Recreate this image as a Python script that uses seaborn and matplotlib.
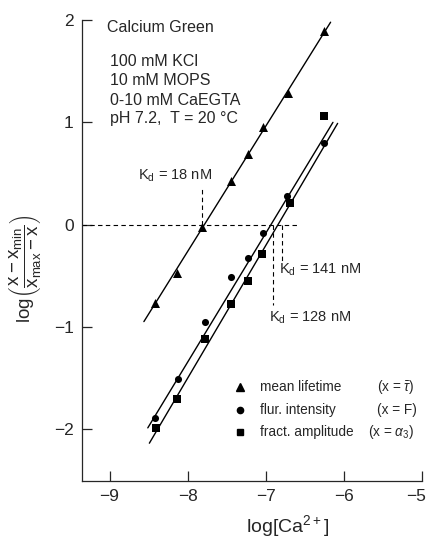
import matplotlib
matplotlib.use("Agg")
import matplotlib.pyplot as plt
import matplotlib.transforms as mtransforms
import seaborn as sns
import pandas as pd

# ---- data ----
x_tri = [-6.26, -6.72, -7.04, -7.23, -7.45, -7.81, -8.13, -8.42]
y_tri = [1.89, 1.29, 0.95, 0.69, 0.43, -0.02, -0.47, -0.77]
x_cir = [-6.26, -6.73, -7.04, -7.23, -7.45, -7.78, -8.12, -8.42]
y_cir = [0.80, 0.28, -0.08, -0.33, -0.51, -0.95, -1.51, -1.89]
x_sq = [-6.26, -6.69, -7.05, -7.23, -7.45, -7.78, -8.13, -8.41]
y_sq = [1.06, 0.21, -0.29, -0.55, -0.78, -1.12, -1.71, -1.99]

# fitted line end points
line_tri_x = [-8.56, -6.17]
line_tri_y = [-0.95, 1.98]
line_cir_x = [-8.51, -6.14]
line_cir_y = [-1.99, 1.00]
line_sq_x = [-8.49, -6.08]
line_sq_y = [-2.14, 0.99]

kd_labels = ["18 nM", "141 nM", "128 nM"]
kd_x = [-7.81, -6.79, -6.91]
kd_ytop = [0.36, -0.39, -0.79]

xticks = [-9, -8, -7, -6, -5]
yticks = [-2, -1, 0, 1, 2]

conditions = ["Calcium Green", "100 mM KCl", "10 mM MOPS", "0-10 mM CaEGTA",
              "pH 7.2,  T = 20 \u00b0C"]
legend_names = ["mean lifetime", "flur. intensity", "fract. amplitude"]
legend_vars = [r"(x = $\bar{\tau}$)", "(x = F)", r"(x = $\alpha_3$)"]

sns.set_style("ticks")
plt.rcParams["font.family"] = ["Liberation Sans", "DejaVu Sans"]
plt.rcParams["mathtext.fontset"] = "custom"
plt.rcParams["mathtext.rm"] = "Liberation Sans"
plt.rcParams["mathtext.it"] = "Liberation Sans:italic"
plt.rcParams["mathtext.bf"] = "Liberation Sans:bold"

fig = plt.figure(figsize=(4.28, 5.39), dpi=100)
ax = fig.add_axes([0.192, 0.1076, 0.794, 0.855])

pts = pd.DataFrame({
    "x": x_tri + x_cir + x_sq,
    "y": y_tri + y_cir + y_sq,
    "kind": ["tri"] * len(x_tri) + ["cir"] * len(x_cir) + ["sq"] * len(x_sq),
})
lines = pd.DataFrame({
    "x": line_tri_x + line_cir_x + line_sq_x,
    "y": line_tri_y + line_cir_y + line_sq_y,
    "kind": ["tri"] * 2 + ["cir"] * 2 + ["sq"] * 2,
})

sns.lineplot(data=lines, x="x", y="y", units="kind", estimator=None,
             color="black", lw=1.0, ax=ax, legend=False, sort=False)

for kind, mk, sz in [("tri", "^", 42), ("cir", "o", 26), ("sq", "s", 34)]:
    sub = pts[pts["kind"] == kind]
    sns.scatterplot(data=sub, x="x", y="y", marker=mk, s=sz, color="black",
                    edgecolor="black", linewidth=0, ax=ax, legend=False, zorder=3)

# dashed guide lines
ax.plot([-9.35, -6.58], [0, 0], color="black", lw=0.8, dashes=(4, 3))
for xk, yt in zip(kd_x, kd_ytop):
    ax.plot([xk, xk], [0, yt], color="black", lw=0.8, dashes=(4, 3))

kd_fs = 10.5
ax.text(-8.64, 0.475, r"K$_\mathregular{d}$ = " + kd_labels[0], fontsize=kd_fs, va="center")
ax.text(-6.83, -0.44, r"K$_\mathregular{d}$ = " + kd_labels[1], fontsize=kd_fs, va="center")
ax.text(-6.96, -0.91, r"K$_\mathregular{d}$ = " + kd_labels[2], fontsize=kd_fs, va="center")

# condition text
ax.text(0.074, 0.983, conditions[0], transform=ax.transAxes, fontsize=11.5, va="center")
for t, yy in zip(conditions[1:], [0.911, 0.870, 0.826, 0.787]):
    ax.text(0.082, yy, t, transform=ax.transAxes, fontsize=11.5, va="center")

# manual legend
lg_fs = 9.8
for mk, ms, name, yy in zip(["^", "o", "s"], [6, 4.5, 5], legend_names,
                            [0.204, 0.154, 0.106]):
    ax.plot([0.465], [yy], marker=mk, ms=ms, color="black", ls="none",
            transform=ax.transAxes, clip_on=False)
    ax.text(0.524, yy, name, transform=ax.transAxes, fontsize=lg_fs, va="center")
ax.text(0.868, 0.204, legend_vars[0], transform=ax.transAxes, fontsize=lg_fs, va="center")
ax.text(0.868, 0.154, legend_vars[1], transform=ax.transAxes, fontsize=lg_fs, va="center")
ax.text(0.84, 0.106, legend_vars[2], transform=ax.transAxes, fontsize=lg_fs, va="center")

ax.set_xlim(-9.35, -5)
ax.set_ylim(-2.51, 2.0)
ax.set_xticks(xticks)
ax.set_yticks(yticks)
ax.set_xticklabels([f"\u2212{abs(v)}" for v in xticks])
ax.set_yticklabels([f"\u2212{abs(v)}" if v < 0 else str(v) for v in yticks])
ax.tick_params(direction="in", length=7, width=0.9, labelsize=12.5, pad=6)
last = ax.get_xticklabels()[-1]
last.set_transform(last.get_transform() +
                   mtransforms.ScaledTranslation(-6 / 100, 0, fig.dpi_scale_trans))
sns.despine(ax=ax)
for s in ["left", "bottom"]:
    ax.spines[s].set_linewidth(0.9)

ax.set_xlabel(r"log[Ca$^{2+}$]", fontsize=14)
ax.xaxis.set_label_coords(0.603, -0.07)
ax.set_ylabel(r"log$\left(\dfrac{\mathregular{x - x_{min}}}{\mathregular{x_{max} - x}}\right)$",
              fontsize=13.5)
ax.yaxis.set_label_coords(-0.115, 0.46)

fig.savefig("out.png", dpi=100)
